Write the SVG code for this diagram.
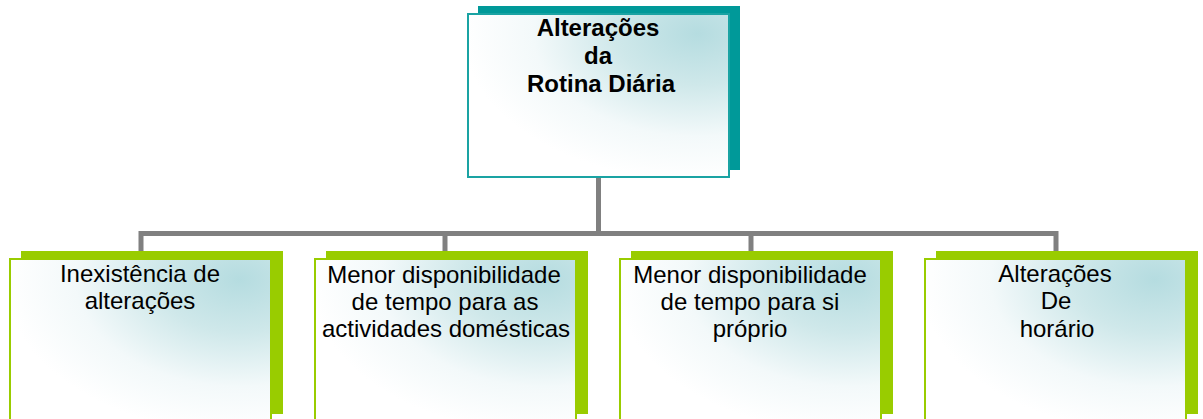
<svg xmlns="http://www.w3.org/2000/svg" width="1203" height="419" viewBox="0 0 1203 419">
  <style>
    .shadowTop { fill: #009999; }
    .frontTop { fill: url(#grad); stroke: #1aa3a3; stroke-width: 2; }
    .shadowBot { fill: #99cc00; }
    .frontBot { fill: url(#grad); stroke: #99cc00; stroke-width: 2; }
    .conn { fill: none; stroke: #808080; stroke-width: 5; stroke-linejoin: miter; }
    .title { font-family: "Liberation Sans", Arial, sans-serif; font-size: 24px; font-weight: bold; fill: #000; text-anchor: middle; }
    .label { font-family: "Liberation Sans", Arial, sans-serif; font-size: 24px; fill: #000; text-anchor: middle; }
  </style>
  <defs>
    <radialGradient id="grad" cx="0.88" cy="0.12" r="0.9" fx="0.88" fy="0.12">
      <stop offset="0" stop-color="#b5dce0"/>
      <stop offset="0.35" stop-color="#cfe8ea"/>
      <stop offset="0.7" stop-color="#f3f9fa"/>
      <stop offset="1" stop-color="#ffffff"/>
    </radialGradient>
  </defs>

  <g id="connectors">
    <path class="conn" d="M598.5,177 V233.5"/>
    <path class="conn" d="M141,251 V233.5 H1056 V251"/>
    <path class="conn" d="M445,233.5 V251"/>
    <path class="conn" d="M751,233.5 V251"/>
  </g>

  <g id="node-root">
    <rect class="shadowTop" x="478" y="6" width="262" height="164"/>
    <rect class="frontTop" x="468" y="14" width="261" height="163"/>
    <text class="title" x="598" y="36">Alterações</text>
    <text class="title" x="598" y="64">da</text>
    <text class="title" x="601" y="92">Rotina Diária</text>
  </g>

  <g id="node-1">
    <rect class="shadowBot" x="21" y="251" width="262" height="163"/>
    <rect class="frontBot" x="10" y="259" width="261" height="170"/>
    <text class="label" x="140" y="282">Inexistência de</text>
    <text class="label" x="140" y="309">alterações</text>
  </g>

  <g id="node-2">
    <rect class="shadowBot" x="326" y="251" width="262" height="163"/>
    <rect class="frontBot" x="315" y="259" width="261" height="170"/>
    <text class="label" x="444" y="283">Menor disponibilidade</text>
    <text class="label" x="445" y="310">de tempo para as</text>
    <text class="label" x="446" y="337">actividades domésticas</text>
  </g>

  <g id="node-3">
    <rect class="shadowBot" x="631" y="251" width="262" height="163"/>
    <rect class="frontBot" x="620" y="259" width="261" height="170"/>
    <text class="label" x="750" y="283">Menor disponibilidade</text>
    <text class="label" x="750" y="310">de tempo para si</text>
    <text class="label" x="750" y="337">próprio</text>
  </g>

  <g id="node-4">
    <rect class="shadowBot" x="936" y="251" width="262" height="163"/>
    <rect class="frontBot" x="925" y="259" width="261" height="170"/>
    <text class="label" x="1055" y="282">Alterações</text>
    <text class="label" x="1056" y="309">De</text>
    <text class="label" x="1057" y="337">horário</text>
  </g>
</svg>
